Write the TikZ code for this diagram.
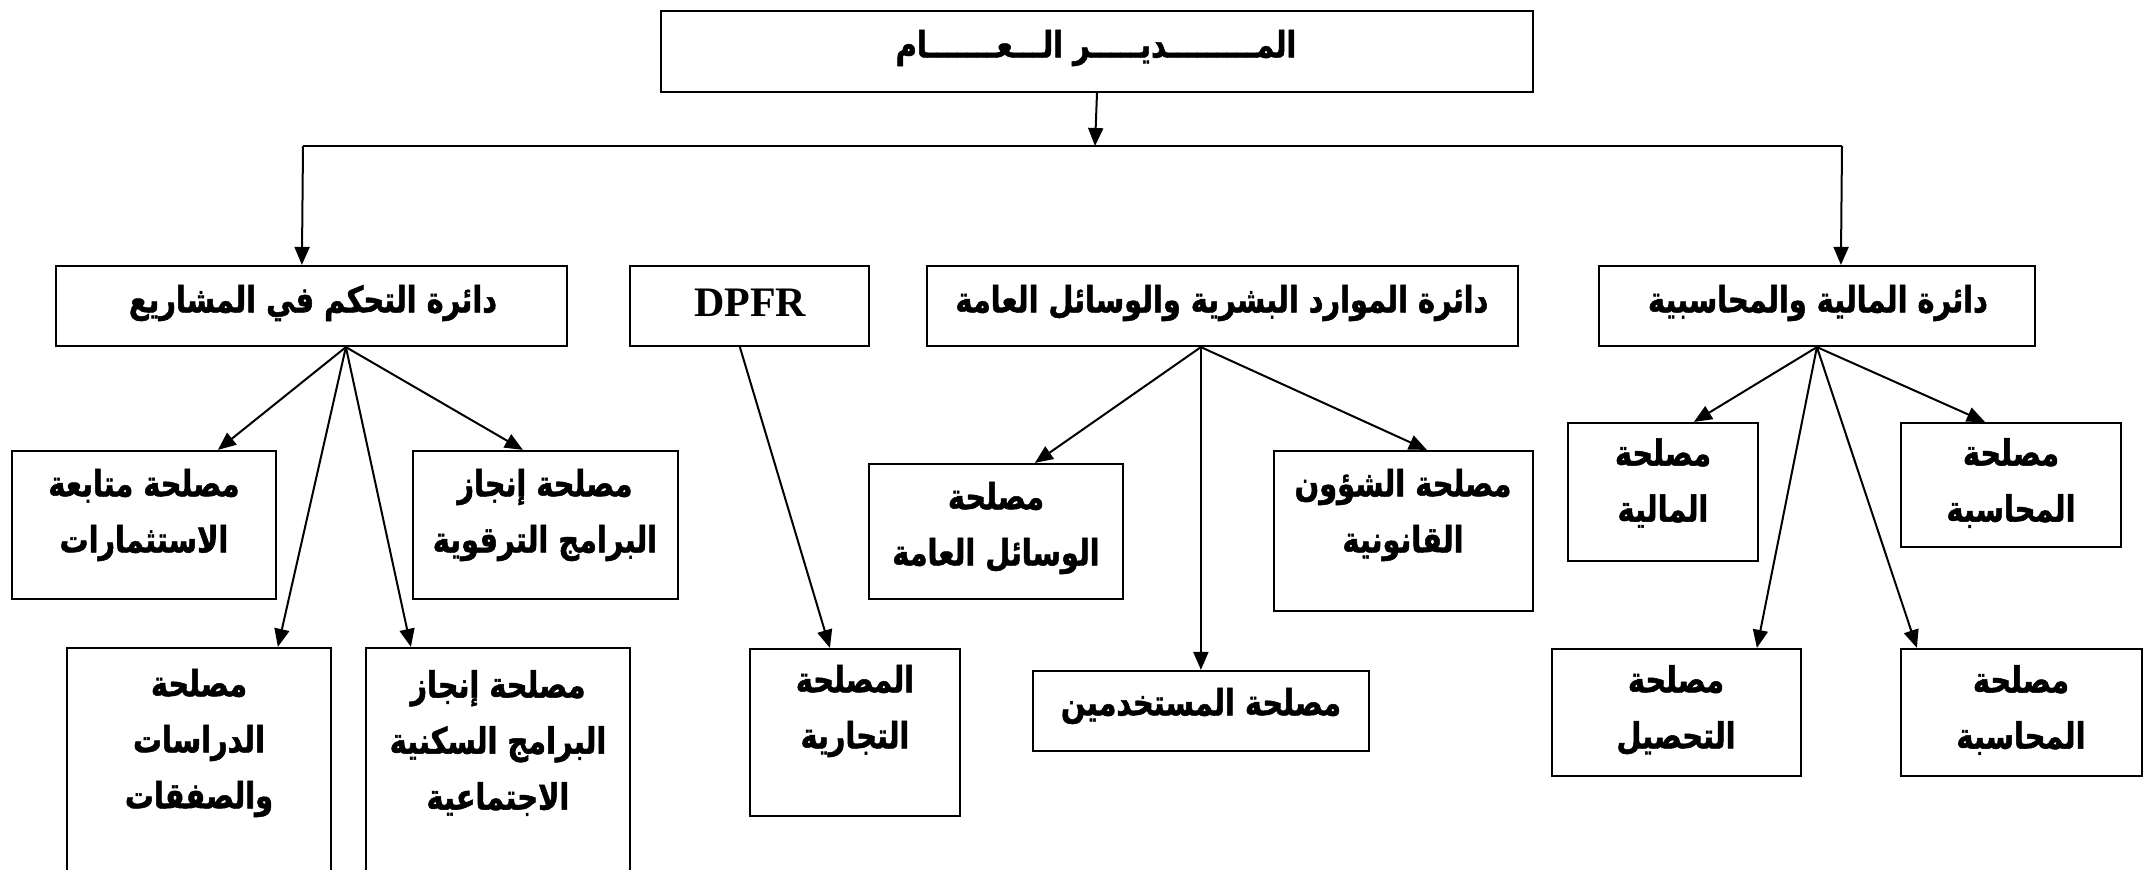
\documentclass[tikz,border=0pt]{standalone}
\usepackage{fontspec}
\usetikzlibrary{arrows.meta,calc}
\TeXXeTstate=1
\newfontfamily\arfont[Script=Arabic,FakeStretch=0.8,BoldFeatures={FakeBold=1.4}]{DejaVu Sans}
\newfontfamily\latfont{Liberation Serif}
\newcommand{\AR}[1]{{\arfont\bfseries\beginR #1\endR}}
\begin{document}
\begin{tikzpicture}[x=0.5pt,y=-0.5pt,
  bx/.style 2 args={draw,line width=1.1pt,inner sep=0pt,minimum width=#1*0.5pt,minimum height=#2*0.5pt},
  txt/.style={align=center,inner sep=0pt,font=\fontsize{18}{28}\selectfont},
  arr/.style={line width=1pt,-{Triangle[length=9pt,width=7.5pt]}},
  ln/.style={line width=1pt}]
\clip (0,0) rectangle (2143,869);
\fill[white] (0,0) rectangle (2143,869);
% boxes
\node[bx={872}{81}] (top) at (1097,51.5) {};
\node[bx={511}{80}] (A) at (311.5,306) {};
\node[bx={239}{80}] (D) at (749.5,306) {};
\node[bx={591}{80}] (H) at (1222.5,306) {};
\node[bx={436}{80}] (F) at (1817,306) {};
\node[bx={264}{148}] (A1) at (144,525) {};
\node[bx={265}{148}] (A2) at (545.5,525) {};
\node[bx={264}{260}] (A3) at (199,778) {};
\node[bx={264}{260}] (A4) at (498,778) {};
\node[bx={210}{167}] (D1) at (855,732.5) {};
\node[bx={254}{135}] (H1) at (996,531.5) {};
\node[bx={336}{80}] (H2) at (1201,711) {};
\node[bx={259}{160}] (H3) at (1403.5,531) {};
\node[bx={190}{138}] (F1) at (1663,492) {};
\node[bx={220}{124}] (F2) at (2011,485) {};
\node[bx={249}{127}] (F3) at (1676.5,712.5) {};
\node[bx={241}{127}] (F4) at (2021.5,712.5) {};
% texts
\node[txt] (topt) at (1096,48) {\AR{المـــــــــديـــــر الـــعـــــــام}};
\node[txt] (At) at (313,303) {\AR{دائرة التحكم في المشاريع}};
\node[txt] (Dt) at (750,303) {\latfont\bfseries\fontsize{21}{24}\selectfont DPFR};
\node[txt] (Ht) at (1222,303) {\AR{دائرة الموارد البشرية والوسائل العامة}};
\node[txt] (Ft) at (1818,303) {\AR{دائرة المالية والمحاسبية}};
\node[txt] (A1t) at (144,515) {\AR{مصلحة متابعة}\\\AR{الاستثمارات}};
\node[txt] (A2t) at (545,515) {\AR{مصلحة إنجاز}\\\AR{البرامج الترقوية}};
\node[txt] (A3t) at (199,743) {\AR{مصلحة}\\\AR{الدراسات}\\\AR{والصفقات}};
\node[txt] (A4t) at (498,743) {\AR{مصلحة إنجاز}\\\AR{البرامج السكنية}\\\AR{الاجتماعية}};
\node[txt] (D1t) at (855,711) {\AR{المصلحة}\\\AR{التجارية}};
\node[txt] (H1t) at (996,528) {\AR{مصلحة}\\\AR{الوسائل العامة}};
\node[txt] (H2t) at (1201,706) {\AR{مصلحة المستخدمين}};
\node[txt] (H3t) at (1403,515) {\AR{مصلحة الشؤون}\\\AR{القانونية}};
\node[txt] (F1t) at (1663,483) {\AR{مصلحة}\\\AR{المالية}};
\node[txt] (F2t) at (2011,483) {\AR{مصلحة}\\\AR{المحاسبة}};
\node[txt] (F3t) at (1676,710) {\AR{مصلحة}\\\AR{التحصيل}};
\node[txt] (F4t) at (2021,710) {\AR{مصلحة}\\\AR{المحاسبة}};
% top connectors
\coordinate (j) at (1095,146);
\coordinate (jl) at (303,146);
\coordinate (jr) at (1842,146);
\draw[arr] (top.south) -- (j);
\draw[ln] (jl) -- (jr);
\draw[arr] (jl) -- ($(A.north west)+(247,0)$);
\draw[arr] (jr) -- ($(F.north west)+(243,0)$);
% origins
\coordinate (Ao) at ($(A.south west)+(291,0)$);
\coordinate (Do) at ($(D.south west)+(111,0)$);
\coordinate (Ho) at ($(H.south west)+(275,0)$);
\coordinate (Fo) at ($(F.south west)+(219,0)$);
\draw[arr] (Ao) -- ($(A1.north west)+(207,0)$);
\draw[arr] (Ao) -- ($(A2.north west)+(111,0)$);
\draw[arr] (Ao) -- ($(A3.north west)+(212,0)$);
\draw[arr] (Ao) -- ($(A4.north west)+(46,0)$);
\draw[arr] (Do) -- ($(D1.north west)+(81,0)$);
\draw[arr] (Ho) -- ($(H1.north west)+(167,0)$);
\draw[arr] (Ho) -- ($(H2.north west)+(169,0)$);
\draw[arr] (Ho) -- ($(H3.north west)+(154,0)$);
\draw[arr] (Fo) -- ($(F1.north west)+(127,0)$);
\draw[arr] (Fo) -- ($(F2.north west)+(85,0)$);
\draw[arr] (Fo) -- ($(F3.north west)+(206,0)$);
\draw[arr] (Fo) -- ($(F4.north west)+(17,0)$);
\end{tikzpicture}
\end{document}
